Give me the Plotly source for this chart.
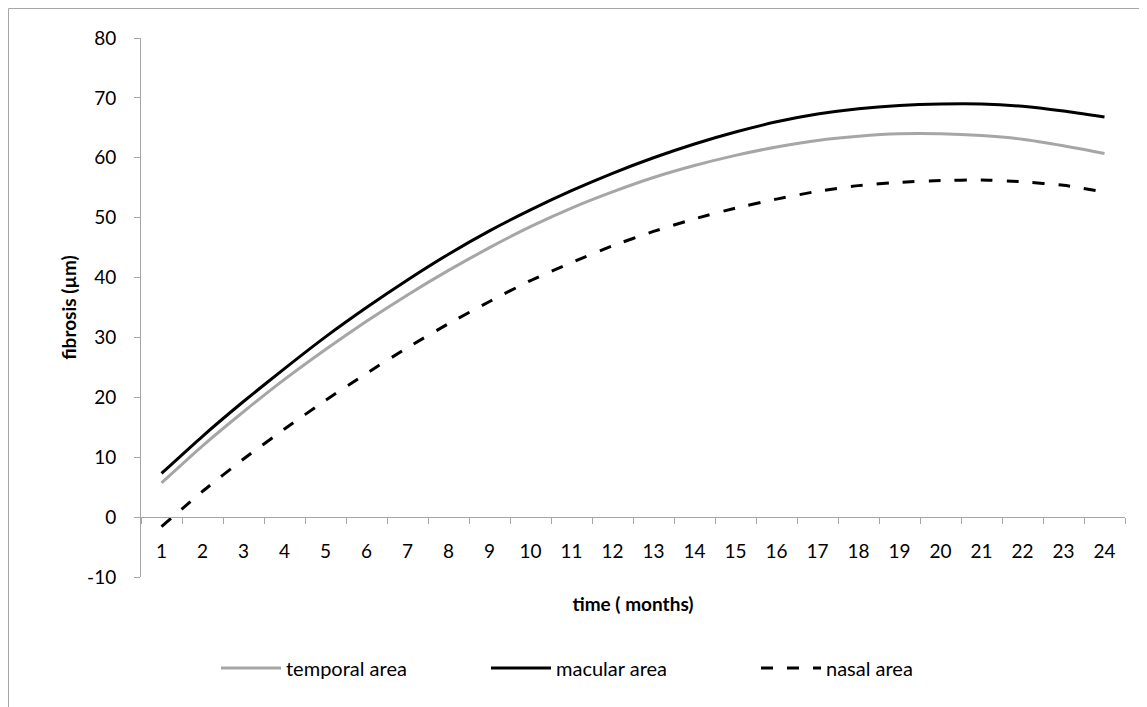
import plotly.graph_objects as go

months = [str(m) for m in range(1, 25)]
temporal = [5.7, 11.9, 17.6, 23.0, 28.0, 32.7, 37.1, 41.2, 45.0, 48.5, 51.6, 54.3,
            56.7, 58.7, 60.4, 61.8, 62.9, 63.6, 64.0, 64.0, 63.7, 63.1, 62.0, 60.7]
macular = [7.3, 13.5, 19.3, 24.8, 30.1, 35.0, 39.6, 43.9, 47.8, 51.3, 54.5, 57.4,
           60.0, 62.3, 64.3, 66.0, 67.3, 68.2, 68.75, 69.0, 69.0, 68.6, 67.8, 66.8]
nasal = [-1.6, 4.3, 9.7, 14.7, 19.5, 24.0, 28.3, 32.3, 36.0, 39.5, 42.5, 45.3,
         47.7, 49.8, 51.6, 53.1, 54.4, 55.35, 55.9, 56.2, 56.3, 56.0, 55.4, 54.3]
y_ticks = [-10, 0, 10, 20, 30, 40, 50, 60, 70, 80]
y_labels = ["-10", "0", "10", "20", "30", "40", "50", "60", "70", "80"]

FONT = "Lato"
OFF = 8  # default page body margin
W, H = 1147 - OFF, 707 - OFF
L, R, T, B = 141 - OFF, 22, 38 - OFF, 130

fig = go.Figure()
fig.add_trace(go.Scatter(x=months, y=temporal, mode="lines", name="temporal area",
                         line=dict(color="#A6A6A6", width=3, shape="spline", smoothing=0.5)))
fig.add_trace(go.Scatter(x=months, y=macular, mode="lines", name="macular area",
                         line=dict(color="#000000", width=3, shape="spline", smoothing=0.5)))
fig.add_trace(go.Scatter(x=months, y=nasal, mode="lines", name="nasal area",
                         line=dict(color="#000000", width=3, dash="12px,14px", shape="spline", smoothing=0.5)))

pw = W - L - R
ph = H - T - B
def px_x(x):
    return (x - OFF - L) / pw
def px_y(y):
    return (H - B - (y - OFF)) / ph

fig.add_shape(type="rect", xref="paper", yref="paper",
              x0=px_x(8.5), x1=px_x(1160), y0=px_y(720), y1=px_y(8.5),
              line=dict(color="#A6A6A6", width=1), fillcolor="rgba(0,0,0,0)", layer="below")

fig.update_layout(
    width=W, height=H,
    margin=dict(l=L, r=R, t=T, b=B),
    paper_bgcolor="white", plot_bgcolor="white",
    font=dict(family=FONT, size=19, color="#000000"),
    showlegend=True,
    legend=dict(orientation="h", x=px_x(216), xanchor="left", y=px_y(668), yanchor="middle",
                font=dict(family=FONT, size=20), itemwidth=60, entrywidth=195,
                bgcolor="rgba(0,0,0,0)"),
    xaxis=dict(type="category", range=[-0.5, 23.5], tickson="boundaries", ticks="outside", ticklen=6,
               tickcolor="#A6A6A6", showline=True, linecolor="#A6A6A6", linewidth=1,
               showgrid=False, zeroline=False, anchor="free", position=1/9,
               ticklabelstandoff=17, tickfont=dict(size=19),
               title=dict(text="<b>time ( months)</b>", font=dict(family=FONT, size=19), standoff=36)),
    yaxis=dict(range=[-10, 80], tickvals=y_ticks, ticktext=y_labels, ticks="outside", ticklen=6,
               tickcolor="#A6A6A6", showline=True, linecolor="#A6A6A6", linewidth=1,
               showgrid=False, zeroline=False, ticklabelstandoff=14, tickfont=dict(size=19),
               title=dict(text="<b>fibrosis (µm)</b>", font=dict(family=FONT, size=19), standoff=5)),
)

fig.write_html("out.html")
